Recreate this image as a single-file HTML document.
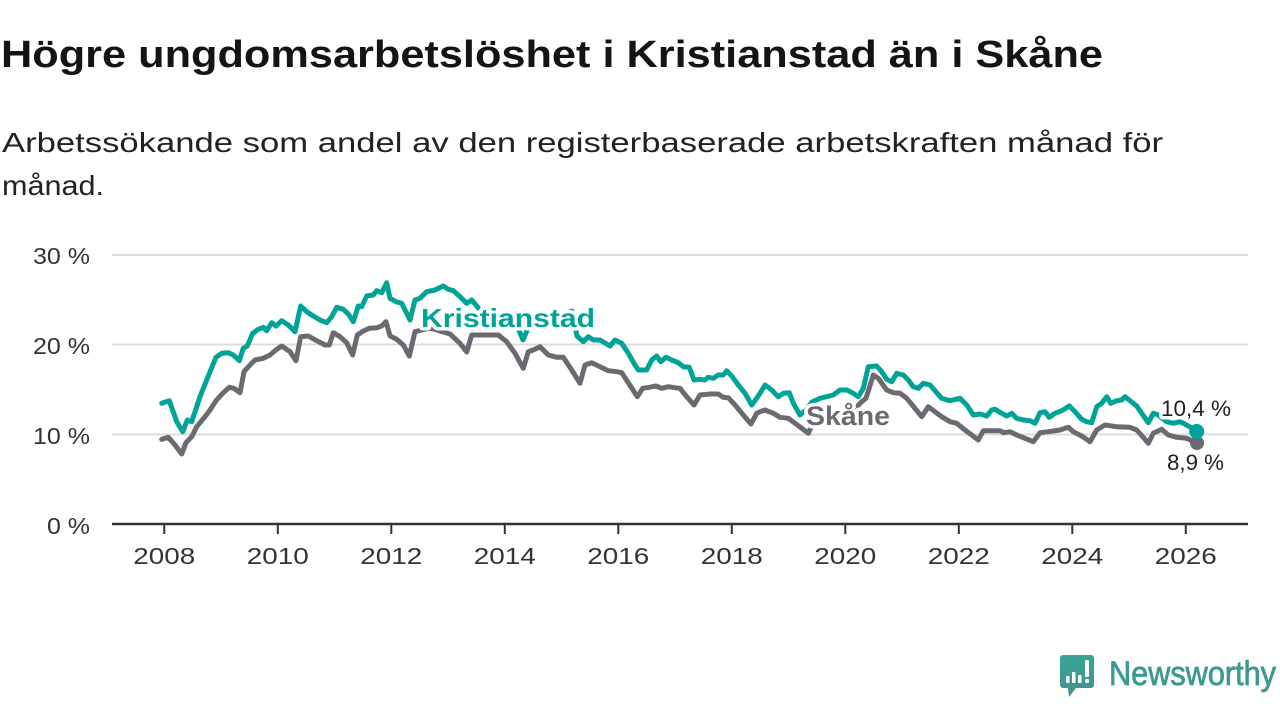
<!DOCTYPE html>
<html>
<head>
<meta charset="utf-8">
<style>
html,body{margin:0;padding:0;background:#fff;}
svg{display:block;}
text{font-family:"Liberation Sans",sans-serif;}
</style>
</head>
<body>
<svg width="1280" height="720" viewBox="0 0 1280 720" xmlns="http://www.w3.org/2000/svg">
<rect width="1280" height="720" fill="#fff"/>
<!-- Title -->
<text x="1" y="67" font-size="38" font-weight="bold" fill="#141414" textLength="1102" lengthAdjust="spacingAndGlyphs">Högre ungdomsarbetslöshet i Kristianstad än i Skåne</text>
<!-- Subtitle -->
<text x="2" y="152" font-size="28" fill="#222" textLength="1161" lengthAdjust="spacingAndGlyphs">Arbetssökande som andel av den registerbaserade arbetskraften månad för</text>
<text x="2" y="195" font-size="28" fill="#222" textLength="102" lengthAdjust="spacingAndGlyphs">månad.</text>

<!-- Gridlines -->
<g stroke="#dcdcdc" stroke-width="2">
<line x1="112" y1="255" x2="1248" y2="255"/>
<line x1="112" y1="344.5" x2="1248" y2="344.5"/>
<line x1="112" y1="434.5" x2="1248" y2="434.5"/>
</g>
<!-- Y labels -->
<g font-size="23" fill="#333">
<text x="33" y="264" textLength="57" lengthAdjust="spacingAndGlyphs">30 %</text>
<text x="33" y="354" textLength="57" lengthAdjust="spacingAndGlyphs">20 %</text>
<text x="33" y="444" textLength="57" lengthAdjust="spacingAndGlyphs">10 %</text>
<text x="47" y="534" textLength="43" lengthAdjust="spacingAndGlyphs">0 %</text>
</g>
<!-- X axis -->
<line x1="112" y1="524" x2="1248" y2="524" stroke="#333" stroke-width="2.5"/>
<g stroke="#333" stroke-width="2">
<line x1="164.3" y1="524" x2="164.3" y2="534"/>
<line x1="277.8" y1="524" x2="277.8" y2="534"/>
<line x1="391.3" y1="524" x2="391.3" y2="534"/>
<line x1="504.8" y1="524" x2="504.8" y2="534"/>
<line x1="618.3" y1="524" x2="618.3" y2="534"/>
<line x1="731.8" y1="524" x2="731.8" y2="534"/>
<line x1="845.3" y1="524" x2="845.3" y2="534"/>
<line x1="958.8" y1="524" x2="958.8" y2="534"/>
<line x1="1072.3" y1="524" x2="1072.3" y2="534"/>
<line x1="1185.8" y1="524" x2="1185.8" y2="534"/>
</g>
<g font-size="23" fill="#333">
<text x="133.3" y="564" textLength="62" lengthAdjust="spacingAndGlyphs">2008</text>
<text x="246.8" y="564" textLength="62" lengthAdjust="spacingAndGlyphs">2010</text>
<text x="360.3" y="564" textLength="62" lengthAdjust="spacingAndGlyphs">2012</text>
<text x="473.8" y="564" textLength="62" lengthAdjust="spacingAndGlyphs">2014</text>
<text x="587.3" y="564" textLength="62" lengthAdjust="spacingAndGlyphs">2016</text>
<text x="700.8" y="564" textLength="62" lengthAdjust="spacingAndGlyphs">2018</text>
<text x="814.3" y="564" textLength="62" lengthAdjust="spacingAndGlyphs">2020</text>
<text x="927.8" y="564" textLength="62" lengthAdjust="spacingAndGlyphs">2022</text>
<text x="1041.3" y="564" textLength="62" lengthAdjust="spacingAndGlyphs">2024</text>
<text x="1154.8" y="564" textLength="62" lengthAdjust="spacingAndGlyphs">2026</text>
</g>

<!-- Skåne (gray) -->
<polyline fill="none" stroke="#6c6a71" stroke-width="5" stroke-linejoin="round" stroke-linecap="round" points="161.7,439.3 168.3,437.3 175,445 181.7,454 186,442.7 191.7,436.7 196.7,426.7 205,416.7 210,410 216,400.7 223.3,392.7 229.3,387.3 234,388.3 240,392.7 244,371.7 250,365 255,360 263.3,358.3 270,355 276.7,349.3 281.7,346 290,351.7 296,360.7 300.7,336.7 308.3,336 316.7,340.7 325,345 329.3,345 333.3,332.7 340,336.7 346.7,342.7 352.7,355 357.3,335 363.3,331 369.3,328.3 376.7,327.7 381.7,326 386,321.7 390,336 396.7,339.3 403.3,345 409.3,356 415,331.7 422,330 430,328 440,331 450,334 460,343.3 466.7,352 471.7,335 483.3,335 498.3,335 506.7,341.7 515,353.3 523.3,368.3 528.3,351.7 533.3,350 540,346.7 548.3,355 556.7,357.3 563.3,357.3 571.7,370 580,383.3 585,365 591.7,362.7 600,366.7 608.3,370.7 616.7,371.7 621.7,372.7 628.3,382.7 637.3,396.7 642.7,388.3 649.3,387.3 656,386 661.7,388.3 668.3,386.7 675,387.7 680,388.3 686.7,396.7 694,405 700,395 710,394 718.3,394 723.3,397.3 728.3,397.7 735,405 743.3,415 751,424 756.7,413.3 760,411.7 765,410 773.3,413.3 780,417.3 788.3,418.3 795,423.3 801.7,428.3 808.3,433.3 813,423 825,420 840,418 852,412 861.7,401.7 866,398.3 873.3,375 878.3,378.3 886.7,390 893.3,392.7 900,393.3 906.7,398.3 915,408.3 921.7,416.7 928.3,406.7 935,411.7 941.7,416.7 950,421.7 956.7,423.3 965,430 971.7,435 978.3,440 983.3,430.7 1000,430.7 1003.3,432.7 1010,431.7 1016.7,435 1025,438.3 1033.3,441.7 1040,432.7 1048.3,431.7 1060,430 1068.3,427.3 1073.3,431.7 1081.7,436 1090,441.7 1096.7,430 1105,425 1116.7,426.7 1130,427.3 1136.7,430 1143.3,437.3 1148.3,443.3 1153.3,433.3 1161.7,429.3 1168.3,435 1176.7,437.3 1186.7,438.3 1197,443"/>
<circle cx="1197" cy="443" r="7" fill="#6c6a71"/>

<!-- Kristianstad (teal) -->
<polyline fill="none" stroke="#00a398" stroke-width="5" stroke-linejoin="round" stroke-linecap="round" points="161.7,403.3 169.3,400.7 176.7,421.7 182.7,431.7 187.3,420 191.7,421.7 200,396.7 208.3,376 216,357.3 221.7,353.3 228.3,352.7 233.3,355 239.3,360.7 243.3,348.3 247.3,346 252.7,333.3 258.3,329.3 263.3,327.3 266.7,330.7 271.7,322.7 276,326 281.7,320.7 288.3,325 295,331.7 300.7,306 306.7,311.7 313.3,316 320,320 326.7,322.7 331.7,316.7 336.7,307.3 343.3,309.3 348.3,314 353.3,321.7 358.3,306 361.7,306.7 366.7,296 373.3,295 376.7,290.7 381.7,292.7 386.7,282.7 390,298.3 396,301.7 401.7,303.3 410,320 415,300 420,298.3 426.7,291.7 435,290 443.3,286 448.3,289.3 453.3,290.7 460,296.7 466.7,303.3 471.7,300 480,310 495,314 510,318 518,328 523,340 528,328 540,318 560,315 572,311 577,336 583.3,341.7 588.3,336.7 593.3,340 600,340 610,346 615,340 621.7,343.3 628.3,353.3 635,365 638.3,370 646.7,370 651.7,360 656.7,356 660.7,361.7 666,357.3 671.7,360 678.3,362.7 683.3,366.7 689.3,367.3 694,380 700,379.3 705,380 708.3,377.3 713.3,378.3 718.3,375 723.3,375 726.7,370.7 731.7,376 738.3,385 745,393.3 751.7,405 756.7,398.3 760,393.3 765,385 771.7,390 778.3,396.7 783.3,393.3 789.3,392.7 793.3,403.3 800,415 806,410 812,402 820,398.3 833.3,395 840,390 846.7,390 853.3,393.3 858.3,396.7 863.3,388.3 868.3,366.7 876.7,366 881.7,371.7 886.7,379.3 891.7,381.7 896.7,373.3 903.3,375 908.3,380 913.3,386.7 918.3,388.3 923.3,383.3 930,385 936.7,392.7 941.7,398.3 950,400.7 960,398.3 966.7,405 973.3,415 980,414 986.7,416 991.7,410 995,409.3 1001.7,413.3 1006.7,416 1011.7,413.3 1016.7,418.3 1023.3,420 1030,420.7 1035,423.3 1040,412.7 1045,411.7 1049.3,417.3 1055,413.3 1061.7,410.7 1069.3,406 1075,411.7 1081.7,419.3 1086.7,421.7 1091.7,422.7 1096.7,406.7 1101.7,403.3 1106.7,396.7 1110.7,403.3 1116.7,400.7 1121.7,400 1125,396.7 1130,400.7 1136.7,406 1141.7,413.3 1148.3,422.7 1153.3,413.3 1158.3,415 1162,418 1166.7,421.7 1173.3,423.3 1180,421.7 1186.7,425 1196.7,431"/>
<circle cx="1196.7" cy="431.5" r="7.5" fill="#00a398"/>

<!-- Series labels with white halo -->
<g paint-order="stroke" stroke="#fff" stroke-width="7" stroke-linejoin="round">
<text x="421" y="327" font-size="26" font-weight="bold" fill="#00a398" textLength="174" lengthAdjust="spacingAndGlyphs">Kristianstad</text>
<text x="806" y="425" font-size="27" font-weight="bold" fill="#6c6a71" textLength="84" lengthAdjust="spacingAndGlyphs">Skåne</text>
<text x="1161" y="416" font-size="22" fill="#222" textLength="70" lengthAdjust="spacingAndGlyphs">10,4 %</text>
<text x="1167" y="470" font-size="22" fill="#222" textLength="57" lengthAdjust="spacingAndGlyphs">8,9 %</text>
</g>

<!-- Logo -->
<defs>
<linearGradient id="lg" x1="0" y1="0" x2="0" y2="1">
<stop offset="0" stop-color="#3aa596"/>
<stop offset="1" stop-color="#44908f"/>
</linearGradient>
</defs>
<path d="M1063,655 H1091 a3,3 0 0 1 3,3 V685 a3,3 0 0 1 -3,3 H1076 L1069,697 L1068,688 H1063 a3,3 0 0 1 -3,-3 V658 a3,3 0 0 1 3,-3 Z" fill="url(#lg)"/>
<g fill="#fff">
<rect x="1066" y="676" width="3.5" height="7" rx="1"/>
<rect x="1072" y="672" width="3.5" height="11" rx="1"/>
<rect x="1078" y="675" width="3.5" height="8" rx="1"/>
<rect x="1085" y="660" width="4" height="17" rx="1.5"/>
<rect x="1085" y="679" width="4" height="4" rx="1.5"/>
</g>
<text x="1109" y="685" font-size="34" fill="#3d9a91" stroke="#3d9a91" stroke-width="0.8" textLength="167" lengthAdjust="spacingAndGlyphs">Newsworthy</text>
</svg>
</body>
</html>
